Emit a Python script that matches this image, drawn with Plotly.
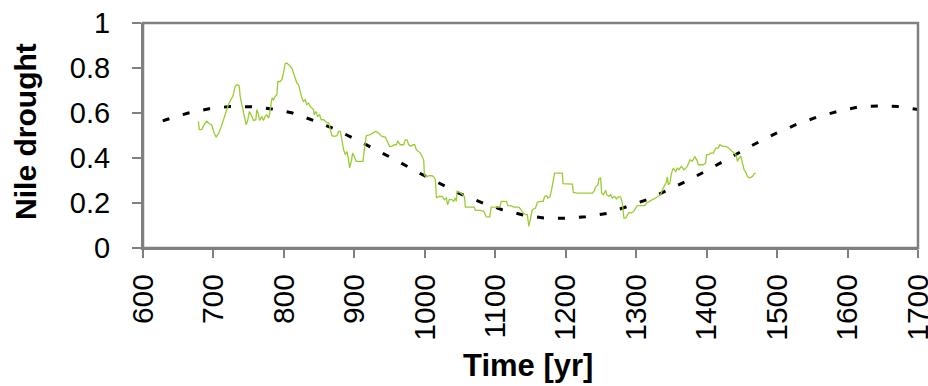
import plotly.graph_objects as go

nile_years = [678.6, 680, 683.4, 686.7, 690.5, 693.8, 697.6, 700.9, 703.8, 707, 710.4, 714.1, 718, 721.2, 724.6,
              727.5, 730.8, 733.2, 736.5, 737.9, 740.3, 743.5, 746.4, 748.3, 751.1, 754.5, 756.8, 760.2, 761.6, 764,
              765.3, 768.7, 771, 773.4, 775.8, 778.1, 779.5, 781.9, 783.3, 785.2, 787.6, 790, 791.4, 794.7, 797.1,
              799.4, 801.8, 804.2, 806.5, 809, 811.3, 813.6, 816, 818.4, 820.7, 823.1, 825.5, 827.8, 830.2, 832.6,
              834.9, 837.3, 839.7, 842, 843, 845.5, 847.7, 850.6, 853, 856.3, 858.7, 861.1, 863.4, 865.8, 868.2,
              871.5, 875.3, 877.6, 880, 882.3, 884.7, 887.1, 889.4, 891.8, 893.2, 895.6, 897.5, 899.9, 902.7, 906,
              909.4, 912.2, 914.1, 916.9, 922.6, 927.3, 929.7, 933, 935.8, 939.2, 943.9, 947.2, 950, 953.4, 956.7,
              959.5, 961.4, 965.3, 970, 972.4, 974.8, 977.1, 980.5, 983.3, 985.6, 988, 991.3,
              993.7, 996.1, 998.4, 999.4, 1001.8, 1005.5, 1010.3, 1012.6, 1015, 1016.5, 1019.7, 1024.5, 1027.7,
              1030.6, 1032.4, 1034.8, 1038.6, 1040.9, 1043.3, 1044.8, 1045.7, 1049.4, 1052.8, 1056.2, 1057.6,
              1062.3, 1067.1, 1070.3, 1071.8, 1078.9, 1083.6, 1087.4, 1092.2, 1094.2, 1100.3, 1106.4, 1108.4,
              1112.1, 1115.9, 1117.8, 1121.7, 1126.4, 1133.5, 1135.9, 1139.7, 1143, 1145.4, 1147.7, 1150.1,
              1152.5, 1157.2, 1159.6, 1164.3, 1168.1, 1170, 1172.8, 1174.7, 1177.5, 1180, 1182.4, 1184.2, 1188.1,
              1192.8, 1195.2, 1196.1, 1202.3, 1209.4, 1210.8, 1216.5, 1225.9, 1233, 1237.8, 1240.1, 1242.5,
              1245.8, 1247.2, 1249.5, 1251, 1253.4, 1256.6, 1258.1, 1261.4, 1263.7, 1266.1, 1269.4, 1272.2,
              1274.6, 1277.9, 1280.3, 1282.6, 1285, 1287.4, 1289.7, 1293.1, 1296.8, 1299.3, 1301.7, 1306.4, 1312,
              1314.9, 1318.2, 1322.9, 1327.6, 1330.9, 1334.8, 1337.1, 1340.4, 1342.8, 1344.2, 1345.6, 1347.9,
              1349.9, 1352.7, 1356, 1358.4, 1360.7, 1364.1, 1367.9, 1370.3, 1372.6, 1376.4, 1379.8, 1383, 1385.9,
              1388.3, 1391.5, 1395.4, 1398.6, 1400, 1403.4, 1405.8, 1409.5, 1412.8, 1416.6, 1418.9, 1422.3, 1427,
              1430.4, 1434.2, 1437.5, 1440, 1441.4, 1443.8, 1446.1, 1448.5, 1450.9, 1453.2, 1455.6, 1458, 1460.3,
              1465.1, 1467.4, 1469.8]
nile_values = [0.563, 0.526, 0.526, 0.548, 0.563, 0.552, 0.548, 0.511, 0.493, 0.508, 0.533, 0.570, 0.600, 0.637, 0.659,
               0.674, 0.718, 0.726, 0.721, 0.674, 0.637, 0.592, 0.548, 0.563, 0.607, 0.585, 0.567, 0.570, 0.615, 0.592,
               0.567, 0.585, 0.567, 0.585, 0.592, 0.578, 0.592, 0.644, 0.667, 0.659, 0.674, 0.681, 0.740, 0.740, 0.748,
               0.778, 0.819, 0.822, 0.815, 0.807, 0.800, 0.778, 0.756, 0.733, 0.726, 0.696, 0.667, 0.652, 0.659, 0.637,
               0.644, 0.629, 0.622, 0.615, 0.592, 0.607, 0.585, 0.592, 0.570, 0.570, 0.563, 0.556, 0.558, 0.526, 0.499,
               0.496, 0.499, 0.518, 0.518, 0.481, 0.437, 0.415, 0.429, 0.392, 0.356, 0.385, 0.422, 0.407, 0.385, 0.385,
               0.385, 0.385, 0.437, 0.499, 0.504, 0.511, 0.518, 0.514, 0.504, 0.496, 0.493, 0.474, 0.452, 0.452, 0.459,
               0.459, 0.474, 0.459, 0.459, 0.481, 0.481, 0.459, 0.452, 0.459, 0.459, 0.437, 0.429,
               0.422, 0.407, 0.392, 0.326, 0.316, 0.321, 0.321, 0.316, 0.304, 0.222, 0.229, 0.229, 0.215,
               0.222, 0.192, 0.215, 0.215, 0.207, 0.222, 0.207, 0.252, 0.247, 0.240, 0.229, 0.182,
               0.182, 0.182, 0.182, 0.167, 0.167, 0.163, 0.138, 0.138, 0.182, 0.182, 0.182, 0.207,
               0.207, 0.207, 0.188, 0.188, 0.182, 0.182, 0.173, 0.156, 0.148, 0.148, 0.096, 0.133,
               0.170, 0.178, 0.203, 0.207, 0.207, 0.229, 0.232, 0.222, 0.227, 0.259, 0.311, 0.333, 0.333,
               0.333, 0.333, 0.286, 0.284, 0.284, 0.247, 0.244, 0.244, 0.244, 0.244, 0.252, 0.271,
               0.281, 0.308, 0.311, 0.244, 0.237, 0.256, 0.237, 0.229, 0.237, 0.222, 0.229, 0.218,
               0.227, 0.227, 0.200, 0.133, 0.133, 0.148, 0.158, 0.156, 0.163, 0.178, 0.188, 0.188, 0.188,
               0.200, 0.207, 0.215, 0.222, 0.229, 0.237, 0.259, 0.277, 0.292, 0.316, 0.281, 0.289,
               0.330, 0.355, 0.340, 0.355, 0.348, 0.363, 0.348, 0.355, 0.363, 0.392, 0.385, 0.407, 0.392,
               0.370, 0.370, 0.370, 0.378, 0.415, 0.415, 0.422, 0.422, 0.444, 0.444, 0.459, 0.452, 0.452,
               0.447, 0.437, 0.429, 0.422, 0.415, 0.385, 0.400, 0.407, 0.378, 0.348, 0.336, 0.318, 0.311,
               0.318, 0.330, 0.333]

trend_years = [628, 632.7, 664.4, 693.8, 723.6, 753, 782.9, 812.3, 842, 871.9, 901.3, 931.2, 960.6, 990.4, 1020.7,
               1050.5, 1080, 1109.8, 1139.6, 1169, 1198.8, 1228.2, 1259, 1287.4, 1318.2, 1348, 1378.4, 1408.2,
               1437.6, 1467, 1496.8, 1526.6, 1556.5, 1585.9, 1615.7, 1646.5, 1675.9, 1700]
trend_values = [0.565, 0.570, 0.600, 0.619, 0.629, 0.628, 0.618, 0.600, 0.567, 0.529, 0.484, 0.437, 0.388, 0.336,
                0.288, 0.240, 0.203, 0.170, 0.147, 0.133, 0.132, 0.139, 0.154, 0.185, 0.218, 0.262, 0.308, 0.358,
                0.410, 0.460, 0.507, 0.548, 0.582, 0.607, 0.627, 0.632, 0.628, 0.615]

x_ticks = [600, 700, 800, 900, 1000, 1100, 1200, 1300, 1400, 1500, 1600, 1700]
y_ticks = [0, 0.2, 0.4, 0.6, 0.8, 1]
y_tick_labels = ["0", "0.2", "0.4", "0.6", "0.8", "1"]

FONT = "Liberation Sans, Arial, sans-serif"
GRAY = "#808080"

fig = go.Figure()
fig.add_trace(go.Scatter(x=trend_years, y=trend_values, mode="lines",
                         line=dict(color="black", width=3, dash="7px,14px"), hoverinfo="skip"))
fig.add_trace(go.Scatter(x=nile_years, y=nile_values, mode="lines",
                         line=dict(color="#9ACD32", width=1.3)))

fig.update_layout(width=928, height=386, margin=dict(l=143, r=10, t=23, b=138, autoexpand=False),
                  paper_bgcolor="white", plot_bgcolor="white", showlegend=False,
                  font=dict(family=FONT, color="black"))
fig.update_xaxes(range=[600, 1700], tickvals=x_ticks, ticktext=[str(v) for v in x_ticks], tickangle=-90,
                 ticks="outside", ticklen=8, tickwidth=1.5, tickcolor=GRAY, ticklabelstandoff=4,
                 ticklabeloverflow="allow", automargin=False,
                 showline=True, linecolor=GRAY, linewidth=2, showgrid=False, zeroline=False,
                 tickfont=dict(family=FONT, size=30, color="black"))
fig.update_yaxes(range=[0, 1], tickvals=y_ticks, ticktext=y_tick_labels, automargin=False,
                 ticks="outside", ticklen=9, tickwidth=1.5, tickcolor=GRAY, ticklabelstandoff=16,
                 showline=True, linecolor=GRAY, linewidth=2, showgrid=False, zeroline=False,
                 tickfont=dict(family=FONT, size=29, color="black"))
fig.add_shape(type="rect", xref="paper", yref="paper", x0=0, x1=1, y0=0, y1=1,
              line=dict(color=GRAY, width=2.5), layer="above")
fig.add_annotation(text="<b>Nile drought</b>", xref="paper", yref="paper", x=-0.152, y=0.517,
                   textangle=-90, showarrow=False, xanchor="center", yanchor="middle",
                   font=dict(family=FONT, size=30, color="black"))
fig.add_annotation(text="<b>Time [yr]</b>", xref="paper", yref="paper", x=0.497, y=-0.52,
                   showarrow=False, xanchor="center", yanchor="middle",
                   font=dict(family=FONT, size=31, color="black"))

fig.write_html("out.html", config={"displayModeBar": False},
               post_script="document.body.style.margin='0';document.body.style.overflow='hidden';")
